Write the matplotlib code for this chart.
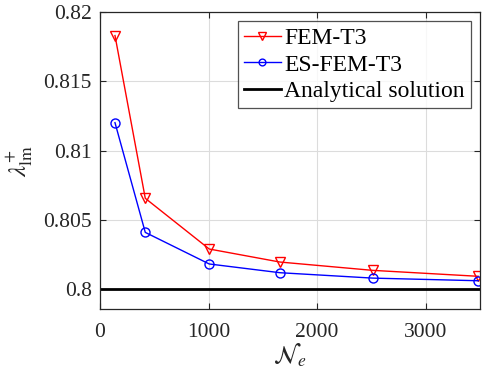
import matplotlib
matplotlib.use("Agg")
import matplotlib.pyplot as plt

Ne = [138, 417, 1006, 1657, 2511, 3484]
fem_t3 = [0.8183, 0.80655, 0.80289, 0.80195, 0.80135, 0.80092]
es_fem_t3 = [0.81201, 0.80409, 0.80181, 0.80118, 0.80079, 0.80060]
analytical = 0.8
xticks = [0, 1000, 2000, 3000]
yticks = [0.8, 0.805, 0.81, 0.815, 0.82]
ytick_labels = ["0.8", "0.805", "0.81", "0.815", "0.82"]

plt.rcParams['font.family'] = ['Liberation Serif', 'DejaVu Serif']
plt.rcParams['mathtext.fontset'] = 'stix'

fig = plt.figure(figsize=(4.87, 3.71), dpi=100)
ax = fig.add_axes([100/487, 62/371, 380/487, 297/371])

ax.plot(Ne, fem_t3, color='red', lw=1.0, marker='v', ms=7.5, mfc='none', mec='red', mew=1.0, label='FEM-T3')
ax.plot(Ne, es_fem_t3, color='blue', lw=1.0, marker='o', ms=6.5, mfc='none', mec='blue', mew=1.0, label='ES-FEM-T3')
ax.axhline(analytical, color='black', lw=2.0, label='Analytical solution')

ax.set_xlim(0, 3500)
ax.set_ylim(0.79856, 0.82)
ax.set_xticks(xticks)
ax.set_xticklabels([str(t) for t in xticks])
ax.set_yticks(yticks)
ax.set_yticklabels(ytick_labels)
ax.grid(True, color='#dcdcdc', lw=0.8)
ax.set_axisbelow(True)
ax.tick_params(direction='in', top=True, right=True, labelsize=15.5, colors='#262626', length=4, pad=6)
ax.tick_params(axis='x', pad=10)
for s in ax.spines.values():
    s.set_color('#262626')
    s.set_linewidth(0.9)

ax.set_xlabel(r'$\mathcal{N}_e$', fontsize=18, color='#262626', labelpad=0)
ax.set_ylabel(r'$\lambda^{+}_{\mathrm{lm}}$', fontsize=18, color='#262626', labelpad=6)

leg = ax.legend(loc='upper right', fontsize=17, frameon=True, fancybox=False, edgecolor='#262626',
                handlelength=1.55, handletextpad=0.15, borderpad=0.25, labelspacing=0.22,
                borderaxespad=0.4, markerscale=0.75)
leg.get_frame().set_linewidth(0.9)

fig.savefig('out.png', dpi=100)
